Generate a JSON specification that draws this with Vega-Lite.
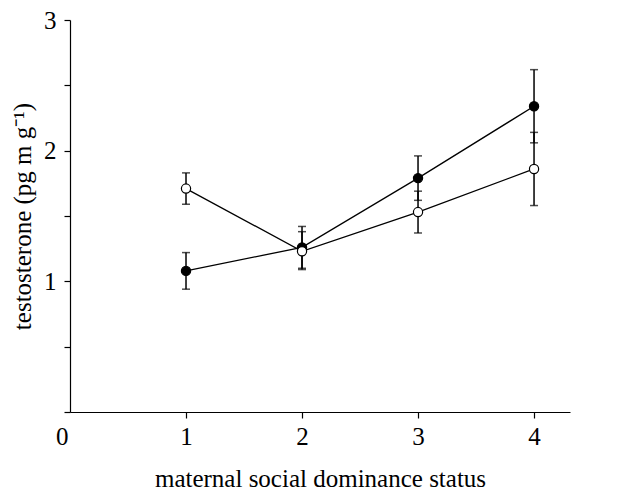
{
  "$schema": "https://vega.github.io/schema/vega-lite/v6.json",
  "width": 500,
  "height": 392,
  "autosize": "none",
  "padding": {"left": 70, "top": 20, "right": 50, "bottom": 79},
  "background": "white",
  "config": {
    "view": {"stroke": null},
    "font": "Liberation Serif",
    "axis": {
      "grid": false,
      "domainColor": "black",
      "tickColor": "black",
      "labelColor": "black",
      "titleColor": "black",
      "labelFont": "Liberation Serif",
      "titleFont": "Liberation Serif",
      "labelFontSize": 25,
      "titleFontSize": 25,
      "titleFontWeight": "normal",
      "tickSize": 6,
      "domainWidth": 1.2,
      "tickWidth": 1.2
    }
  },
  "data": {
    "values": [
      {"status": 1, "group": "closed", "t": 1.08, "lo": 0.94, "hi": 1.22},
      {"status": 2, "group": "closed", "t": 1.26, "lo": 1.10, "hi": 1.42},
      {"status": 3, "group": "closed", "t": 1.79, "lo": 1.62, "hi": 1.96},
      {"status": 4, "group": "closed", "t": 2.34, "lo": 2.06, "hi": 2.62},
      {"status": 1, "group": "open", "t": 1.71, "lo": 1.59, "hi": 1.83},
      {"status": 2, "group": "open", "t": 1.23, "lo": 1.09, "hi": 1.38},
      {"status": 3, "group": "open", "t": 1.53, "lo": 1.37, "hi": 1.69},
      {"status": 4, "group": "open", "t": 1.86, "lo": 1.58, "hi": 2.14}
    ]
  },
  "encoding": {
    "x": {
      "field": "status",
      "type": "quantitative",
      "scale": {"domain": [0, 4.31], "nice": false, "zero": false},
      "axis": {
        "values": [1, 2, 3, 4],
        "title": "maternal social dominance status",
        "labelPadding": 6,
        "titlePadding": 17
      }
    }
  },
  "layer": [
    {
      "mark": {"type": "line", "color": "black", "strokeWidth": 1.3},
      "encoding": {
        "y": {
          "field": "t",
          "type": "quantitative",
          "scale": {"domain": [0, 3], "nice": false},
          "axis": {
            "values": [0, 0.5, 1, 1.5, 2, 2.5, 3],
            "labelExpr": "datum.value % 1 === 0 ? '' + datum.value : ''",
            "labelOffset": {"condition": {"test": "datum.value === 0", "value": 24}, "value": 0},
            "labelPadding": {"condition": {"test": "datum.value === 0", "value": -4}, "value": 8},
            "title": "testosterone (pg m g⁻¹)",
            "titlePadding": 8
          }
        },
        "detail": {"field": "group"}
      }
    },
    {
      "mark": {"type": "rule", "color": "black", "strokeWidth": 1.5},
      "encoding": {
        "y": {"field": "lo", "type": "quantitative"},
        "y2": {"field": "hi"},
        "detail": {"field": "group"}
      }
    },
    {
      "mark": {"type": "tick", "orient": "horizontal", "color": "black", "size": 8, "thickness": 1.5},
      "encoding": {"y": {"field": "lo", "type": "quantitative"}}
    },
    {
      "mark": {"type": "tick", "orient": "horizontal", "color": "black", "size": 8, "thickness": 1.5},
      "encoding": {"y": {"field": "hi", "type": "quantitative"}}
    },
    {
      "mark": {"type": "point", "filled": true, "size": 85, "stroke": "black", "strokeWidth": 1.2, "opacity": 1},
      "encoding": {
        "y": {"field": "t", "type": "quantitative"},
        "fill": {
          "field": "group",
          "type": "nominal",
          "scale": {"domain": ["closed", "open"], "range": ["black", "white"]},
          "legend": null
        },
        "order": {"field": "group"}
      }
    }
  ]
}
